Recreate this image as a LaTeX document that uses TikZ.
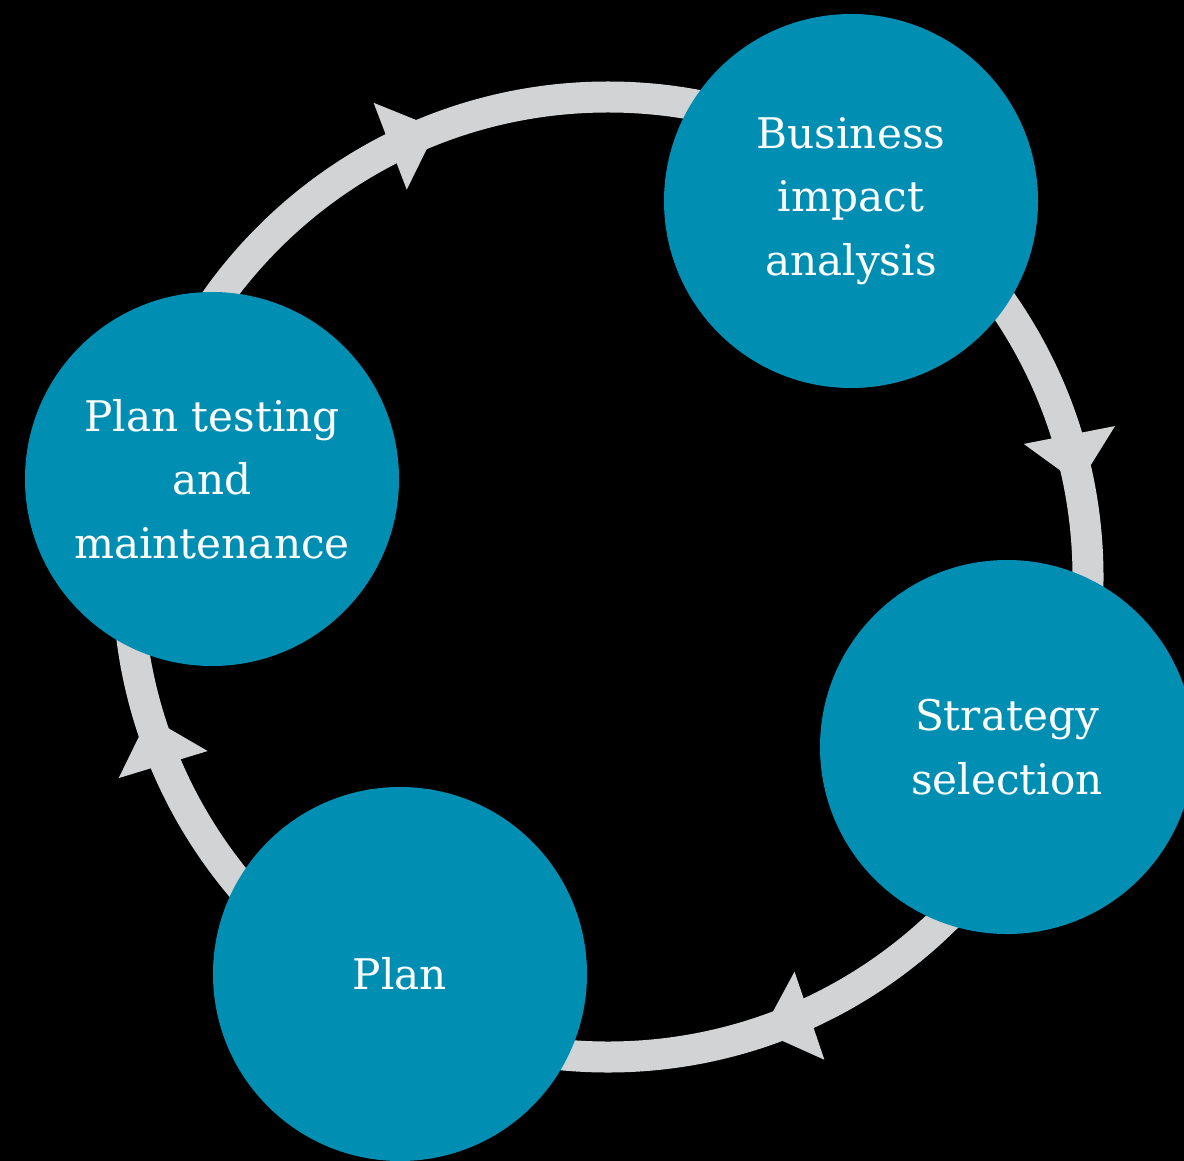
\documentclass[tikz,border=0pt]{standalone}
\usepackage{fontspec}
\setmainfont{DejaVu Serif}
\usetikzlibrary{arrows.meta,decorations.markings}
\definecolor{ringgrey}{RGB}{209,211,212}
\definecolor{stageblue}{RGB}{0,143,179}
\tikzset{
    stage/.style={circle,fill=stageblue,minimum size=3.74cm,inner sep=0pt,
        text=white,align=center,font=\fontsize{12}{18.1}\selectfont},
    ring/.style={ringgrey,line width=0.31cm},
    cycletip/.tip={Triangle[length=0.5cm,width=0.93cm,line width=0pt]}
}
\begin{document}
\begin{tikzpicture}
    \fill[black] (0,0) rectangle (11.84,-11.61);
    \useasboundingbox (0,0) rectangle (11.84,-11.61);
    % the cycle, drawn clockwise
    \coordinate (c) at (6.08,-5.77);
    \draw[ring,postaction={decorate},decoration={markings,
            mark=at position 0.198 with {\arrow{cycletip}},
            mark=at position 0.453 with {\arrow{cycletip}},
            mark=at position 0.692 with {\arrow{cycletip}},
            mark=at position 0.969 with {\arrow{cycletip}}}]
        (c) ++(0:4.8) arc[start angle=0,end angle=-360,radius=4.8];
    % the four stages
    \node[stage] (bia) at (8.51,-2.01) {Business\\impact\\analysis};
    \node[stage] (strategy) at (10.07,-7.47) {Strategy\\selection};
    \node[stage] (plan) at (4.00,-9.74) {Plan};
    \node[stage] (testing) at (2.12,-4.79) {Plan testing\\and\\maintenance};
\end{tikzpicture}
\end{document}
